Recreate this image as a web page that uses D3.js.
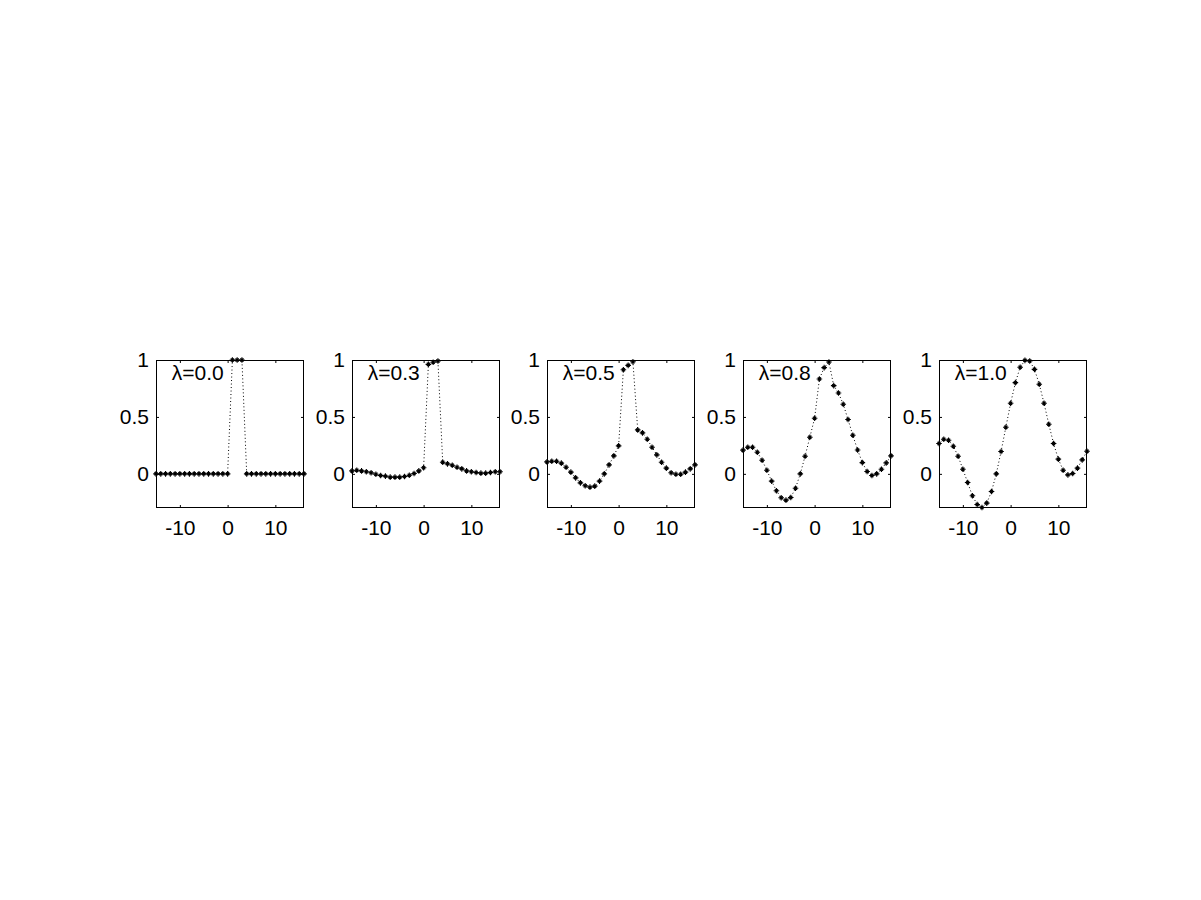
<!DOCTYPE html>
<html>
<head>
<meta charset="utf-8">
<script src="https://cdn.jsdelivr.net/npm/d3@7"></script>
<style>
  html, body { margin: 0; padding: 0; background: #ffffff; }
  svg { display: block; }
  text { font-family: "Liberation Sans", Arial, sans-serif; }
</style>
</head>
<body>
<script>
// ---- data ----
const xValues = [-15,-14,-13,-12,-11,-10,-9,-8,-7,-6,-5,-4,-3,-2,-1,0,1,2,3,4,5,6,7,8,9,10,11,12,13,14,15,16];
const panelLabels = ["\u03bb=0.0", "\u03bb=0.3", "\u03bb=0.5", "\u03bb=0.8", "\u03bb=1.0"];
const lambda00 = [0,0,0,0,0,0,0,0,0,0,0,0,0,0,0,0,1,1,1,0,0,0,0,0,0,0,0,0,0,0,0,0];
const lambda03 = [0.026,0.032,0.026,0.018,0.009,-0.003,-0.015,-0.020,-0.029,-0.029,-0.029,-0.023,-0.012,0.003,0.026,0.053,
                  0.962,0.980,0.991,0.102,0.088,0.076,0.058,0.044,0.026,0.018,0.012,0.006,0.006,0.012,0.018,0.018];
const lambda05 = [0.105,0.110,0.110,0.094,0.058,0.015,-0.035,-0.079,-0.105,-0.117,-0.108,-0.064,0.000,0.079,0.158,0.246,
                  0.915,0.953,0.985,0.386,0.360,0.304,0.234,0.167,0.102,0.050,0.009,-0.003,-0.003,0.015,0.044,0.079];
const lambda08 = [0.208,0.234,0.234,0.190,0.120,0.032,-0.064,-0.149,-0.210,-0.231,-0.208,-0.126,0.000,0.155,0.322,0.488,
                  0.833,0.933,0.982,0.775,0.710,0.611,0.477,0.339,0.210,0.099,0.020,-0.015,0.000,0.041,0.096,0.158];
const lambda10 = [0.266,0.304,0.295,0.243,0.155,0.041,-0.076,-0.193,-0.269,-0.295,-0.257,-0.155,0.000,0.196,0.409,0.620,
                  0.801,0.936,0.997,0.991,0.918,0.787,0.620,0.436,0.266,0.129,0.032,-0.009,0.003,0.050,0.123,0.199];
const seriesList = [lambda00, lambda03, lambda05, lambda08, lambda10];
const xTicks = [-10, 0, 10];
const xTickLabels = ["-10", "0", "10"];
const yTicks = [0, 0.5, 1];
const yTickLabels = ["0", "0.5", "1"];
const xDomain = [-15, 16];
const yDomain = [-0.3, 1];

// ---- layout ----
const W = 1201, H = 900;
const panelLefts = [156, 352, 547, 743, 939];
const panelW = 148, panelTop = 360, panelH = 148;
const fontSize = 21;
const tickLen = 3;

const svg = d3.select("body").append("svg").attr("width", W).attr("height", H);

seriesList.forEach((vals, i) => {
  const left = panelLefts[i];
  const x = d3.scaleLinear().domain(xDomain).range([left, left + panelW]);
  const y = d3.scaleLinear().domain(yDomain).range([panelTop + panelH, panelTop]);
  const g = svg.append("g");

  // dotted line
  const line = d3.line().x((d, j) => x(xValues[j])).y(d => y(d));
  g.append("path").datum(vals)
    .attr("d", line)
    .attr("fill", "none")
    .attr("stroke", "#000")
    .attr("stroke-width", 1)
    .attr("stroke-dasharray", "1,2.5");

  // asterisk markers
  const m = g.selectAll("g.mk").data(vals).join("g").attr("class", "mk")
    .attr("transform", (d, j) => `translate(${x(xValues[j])},${y(d)})`);
  m.append("path")
    .attr("d", "M-2.8,0H2.8M0,-2.8V2.8M-1.6,-1.6L1.6,1.6M-1.6,1.6L1.6,-1.6")
    .attr("stroke", "#000").attr("stroke-width", 1.1).attr("fill", "none");

  // box
  g.append("rect")
    .attr("x", left + 0.5).attr("y", panelTop + 0.5)
    .attr("width", panelW - 1).attr("height", panelH - 1)
    .attr("fill", "none").attr("stroke", "#000").attr("stroke-width", 1);

  // axes with inward ticks
  const xAxB = d3.axisBottom(x).tickValues(xTicks).tickSize(-tickLen).tickPadding(12)
    .tickFormat(d => xTickLabels[xTicks.indexOf(d)]);
  const xAxT = d3.axisTop(x).tickValues(xTicks).tickSize(-tickLen).tickFormat("");
  const yAxL = d3.axisLeft(y).tickValues(yTicks).tickSize(-tickLen).tickPadding(7)
    .tickFormat(d => yTickLabels[yTicks.indexOf(d)]);
  const yAxR = d3.axisRight(y).tickValues(yTicks).tickSize(-tickLen).tickFormat("");

  const styleAxis = sel => {
    sel.select(".domain").remove();
    sel.selectAll("line").attr("stroke", "#000");
    sel.selectAll("text").attr("fill", "#000").style("font-size", fontSize + "px")
      .style("font-family", '"Liberation Sans", Arial, sans-serif');
  };
  g.append("g").attr("transform", `translate(0,${panelTop + panelH})`).call(xAxB).call(styleAxis);
  g.append("g").attr("transform", `translate(0,${panelTop})`).call(xAxT).call(styleAxis);
  g.append("g").attr("transform", `translate(${left},0)`).call(yAxL).call(styleAxis);
  g.append("g").attr("transform", `translate(${left + panelW},0)`).call(yAxR).call(styleAxis);

  // lambda label
  g.append("text")
    .attr("x", x(-11.7))
    .attr("y", y(0.9) + 9)
    .attr("fill", "#000")
    .style("font-size", fontSize + "px")
    .text(panelLabels[i]);
});
</script>
</body>
</html>
